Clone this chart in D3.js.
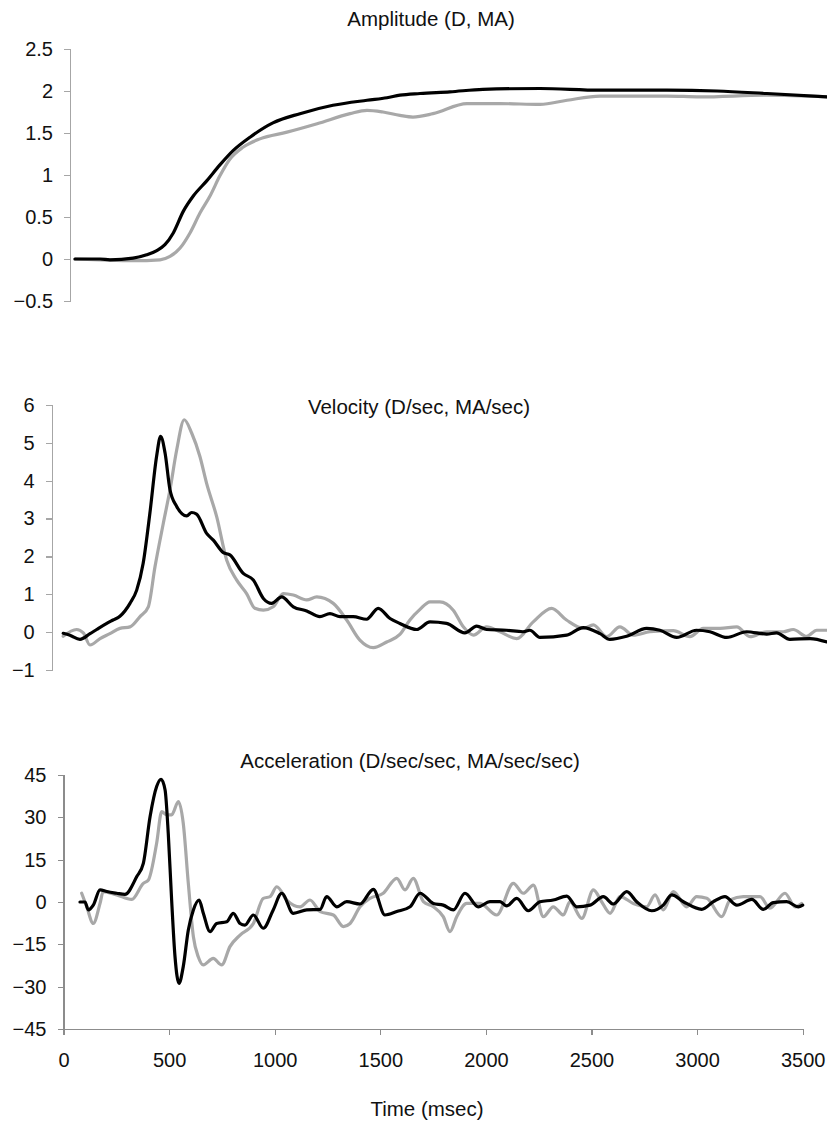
<!DOCTYPE html>
<html>
<head>
<meta charset="utf-8">
<script src="https://cdn.jsdelivr.net/npm/d3@7"></script>
<style>
  body { margin: 0; background: #fff; }
  text { font-family: "Liberation Sans", Arial, sans-serif; fill: #111; }
  .axis path, .axis line { stroke: #a6a6a6; stroke-width: 1.2px; shape-rendering: crispEdges; }
  .axis text { font-size: 20px; fill: #111; }
  .title { font-size: 20.5px; }
  .line { fill: none; stroke-width: 3.2px; stroke-linejoin: round; stroke-linecap: round; }
</style>
</head>
<body>
<script>
// time (msec), value pairs
var ampBlack = [[80,0],[194,0],[239,-0.01],[344,0.01],[406,0.05],[452,0.1],[489,0.17],[527,0.31],[573,0.57],[618,0.75],[679,0.93],[739,1.12],[799,1.29],[876,1.45],[980,1.62],[1103,1.73],[1253,1.83],[1408,1.89],[1499,1.92],[1558,1.95],[1649,1.97],[1785,1.99],[1935,2.02],[2195,2.03],[2468,2.01],[2772,2.01],[3000,2.0],[3227,1.97],[3500,1.93]];
var ampGrey = [[80,0],[194,-0.01],[344,-0.02],[467,-0.01],[512,0.03],[558,0.13],[603,0.31],[649,0.55],[694,0.75],[739,0.99],[785,1.19],[844,1.33],[921,1.43],[1044,1.51],[1181,1.61],[1331,1.73],[1408,1.77],[1481,1.75],[1558,1.71],[1617,1.69],[1708,1.73],[1863,1.85],[2013,1.85],[2195,1.84],[2318,1.89],[2468,1.94],[2772,1.94],[2922,1.93],[3227,1.95],[3500,1.93]];

var velBlack = [[81,-0.03],[111,-0.08],[156,-0.19],[201,-0.04],[231,0.07],[276,0.23],[304,0.32],[335,0.42],[380,0.76],[410,1.11],[439,1.82],[469,3.14],[499,4.64],[517,5.17],[537,4.73],[559,3.76],[589,3.32],[634,3.07],[656,3.16],[678,3.12],[723,2.61],[753,2.43],[798,2.1],[827,2.04],[887,1.55],[932,1.38],[977,0.89],[1014,0.76],[1059,0.93],[1111,0.67],[1171,0.56],[1230,0.41],[1275,0.49],[1320,0.41],[1379,0.41],[1439,0.34],[1491,0.63],[1544,0.36],[1588,0.23],[1663,0.07],[1723,0.27],[1797,0.23],[1879,-0.02],[1932,0.16],[1976,0.07],[2066,0.05],[2139,0.01],[2170,0.05],[2215,-0.14],[2335,-0.08],[2409,0.12],[2484,-0.04],[2528,-0.19],[2603,-0.11],[2693,0.1],[2752,0.05],[2827,-0.14],[2916,0.05],[2976,0.01],[3051,-0.14],[3140,0.01],[3230,-0.05],[3274,-0.02],[3334,-0.19],[3424,-0.17],[3500,-0.26]];
var velGrey = [[81,-0.11],[141,0.07],[171,-0.02],[201,-0.34],[246,-0.17],[290,-0.04],[335,0.1],[380,0.14],[425,0.41],[462,0.67],[492,1.73],[529,2.87],[559,3.76],[589,4.81],[623,5.61],[656,5.26],[693,4.64],[723,3.93],[768,3.05],[813,1.9],[857,1.38],[902,1.02],[939,0.63],[977,0.58],[1021,0.67],[1066,1.02],[1111,0.98],[1171,0.85],[1216,0.93],[1290,0.76],[1350,0.32],[1409,-0.21],[1469,-0.41],[1529,-0.26],[1588,-0.06],[1633,0.32],[1678,0.6],[1723,0.8],[1767,0.8],[1827,0.58],[1872,0.14],[1917,-0.08],[1976,0.14],[2036,0.01],[2111,-0.17],[2185,0.27],[2267,0.63],[2334,0.32],[2409,0.1],[2454,0.19],[2514,-0.12],[2573,0.14],[2633,-0.08],[2707,0.01],[2812,0.04],[2886,-0.12],[2946,0.1],[3021,0.1],[3096,0.14],[3155,-0.12],[3230,0.01],[3304,0.01],[3349,0.07],[3409,-0.11],[3454,0.05],[3500,0.05]];

var accBlack = [[78,0],[102,0],[117,-2.8],[141,-1.1],[173,4.3],[205,3.7],[252,3.1],[291,2.7],[347,9.0],[378,13.7],[410,30.3],[441,40.9],[462,43.5],[481,39.7],[496,24.3],[512,0.7],[528,-19.4],[547,-28.8],[567,-22.9],[591,-9.9],[615,-2.8],[642,0.7],[662,-4.0],[694,-10.5],[725,-7.6],[773,-7.0],[804,-4.0],[836,-7.6],[859,-8.2],[899,-4.6],[946,-9.3],[993,-2.8],[1033,3.1],[1088,-4.0],[1152,-2.8],[1215,-2.6],[1246,1.9],[1294,-1.7],[1341,0.1],[1404,-0.7],[1467,4.5],[1522,-4.6],[1578,-3.4],[1641,-1.7],[1688,3.1],[1751,-0.5],[1798,-1.1],[1846,-2.8],[1901,3.1],[1964,-1.7],[2019,0.1],[2067,0.1],[2099,-1.4],[2146,1.3],[2201,-3.1],[2256,0.1],[2319,0.7],[2383,2.1],[2430,-1.7],[2493,-1.1],[2556,1.9],[2603,-0.7],[2667,3.7],[2714,0.1],[2785,-3.1],[2840,-1.1],[2880,2.5],[2935,0.1],[3022,-2.6],[3077,0.1],[3132,1.9],[3188,-1.1],[3259,0.9],[3314,-2.6],[3361,-0.2],[3424,0.1],[3479,-1.7],[3500,-1.1]];
var accGrey = [[86,3.1],[110,-1.7],[141,-7.6],[173,-0.5],[188,3.7],[252,2.5],[323,0.9],[378,6.6],[402,7.8],[441,20.8],[465,32.0],[489,30.9],[512,30.9],[544,35.6],[567,27.9],[591,6.6],[615,-12.3],[638,-19.4],[662,-22.3],[709,-20.0],[749,-22.3],[788,-15.8],[836,-11.7],[899,-7.6],[946,1.3],[978,1.9],[1010,5.4],[1057,0.7],[1120,-1.7],[1167,0.7],[1215,-3.4],[1278,-4.6],[1325,-8.7],[1357,-7.6],[1404,-1.7],[1451,1.3],[1514,3.1],[1578,8.4],[1617,4.3],[1656,8.4],[1704,0.1],[1751,-1.7],[1798,-5.2],[1830,-10.5],[1862,-5.2],[1909,-0.5],[1972,-0.5],[2051,-4.6],[2130,6.6],[2177,3.1],[2225,6.0],[2272,-5.2],[2319,-1.7],[2367,-4.6],[2398,0.1],[2454,-5.8],[2509,4.3],[2548,0.1],[2588,-4.0],[2635,1.9],[2698,-0.5],[2761,-1.7],[2801,2.5],[2840,-2.8],[2887,3.7],[2951,-1.7],[2998,1.9],[3046,1.3],[3117,-5.2],[3156,0.7],[3219,1.9],[3298,1.9],[3345,-2.2],[3416,3.1],[3464,-1.7],[3495,-0.5]];

var ampTicks = [-0.5, 0, 0.5, 1, 1.5, 2, 2.5];
var velTicks = [-1, 0, 1, 2, 3, 4, 5, 6];
var accTicks = [-45, -30, -15, 0, 15, 30, 45];
var timeTicks = [0, 500, 1000, 1500, 2000, 2500, 3000, 3500];

var titles = ["Amplitude (D, MA)", "Velocity (D/sec, MA/sec)", "Acceleration (D/sec/sec, MA/sec/sec)"];

var width = 827, height = 1125;
var svg = d3.select("body").append("svg")
    .attr("width", width)
    .attr("height", height);

// each panel was a separate chart, so each has its own plot box
var panels = [
  { black: ampBlack, grey: ampGrey, ticks: ampTicks, yDom: [-0.5, 2.5], yRange: [301, 49],
    axisX: 70, xRange: [57.4, 827], title: titles[0], titleX: 431, titleY: 26 },
  { black: velBlack, grey: velGrey, ticks: velTicks, yDom: [-1, 6], yRange: [670, 405],
    axisX: 51.7, xRange: [45.1, 827], title: titles[1], titleX: 419, titleY: 414 },
  { black: accBlack, grey: accGrey, ticks: accTicks, yDom: [-45, 45], yRange: [1029, 775],
    axisX: 63.5, xRange: [63.5, 802.7], title: titles[2], titleX: 410, titleY: 768 }
];

panels.forEach(function(p, i) {
  var x = d3.scaleLinear().domain([0, 3500]).range(p.xRange);
  var y = d3.scaleLinear().domain(p.yDom).range(p.yRange);

  svg.append("g")
      .attr("class", "axis")
      .attr("transform", "translate(" + p.axisX + ",0)")
      .call(d3.axisLeft(y).tickValues(p.ticks).tickSize(6).tickPadding(11).tickFormat(d3.format("")));

  if (i == 2) {
    var xa = svg.append("g")
        .attr("class", "axis")
        .attr("transform", "translate(0," + p.yRange[0] + ")")
        .call(d3.axisBottom(x).tickValues(timeTicks).tickSize(6).tickPadding(18).tickFormat(d3.format("")));
    xa.selectAll("path, line").style("stroke", "#8c8c8c");
    svg.selectAll(".axis").filter(function(d, j) { return j == 2; })
        .selectAll("path, line").style("stroke", "#8c8c8c");
  }

  var line = d3.line()
      .x(function(d) { return x(d[0]); })
      .y(function(d) { return y(d[1]); })
      .curve(d3.curveMonotoneX);

  svg.append("path").datum(p.grey).attr("class", "line")
      .attr("stroke", "#a8a8a8").attr("d", line);
  svg.append("path").datum(p.black).attr("class", "line")
      .attr("stroke", "#000").attr("d", line);

  svg.append("text")
      .attr("class", "title")
      .attr("x", p.titleX).attr("y", p.titleY)
      .attr("text-anchor", "middle")
      .text(p.title);
});

svg.append("text")
    .attr("class", "title")
    .attr("x", 427).attr("y", 1116)
    .attr("text-anchor", "middle")
    .text("Time (msec)");
</script>
</body>
</html>
